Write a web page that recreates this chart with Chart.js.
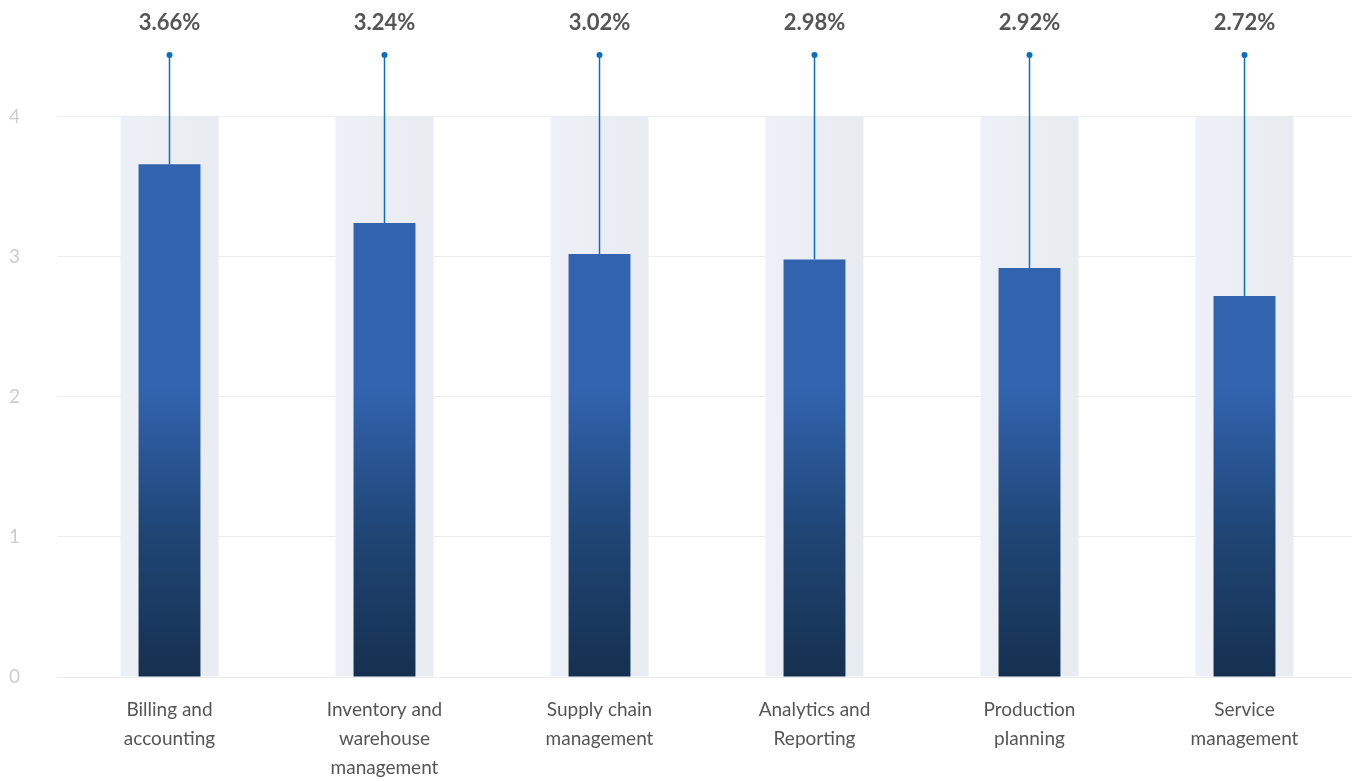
<!DOCTYPE html>
<html>
<head>
<meta charset="utf-8">
<script src="https://cdn.jsdelivr.net/npm/chart.js@4.4.1/dist/chart.umd.min.js"></script>
<style>
  html, body { margin: 0; padding: 0; background: #fff; }
  #wrap { width: 1355px; height: 781px; }
</style>
</head>
<body>
<div id="wrap"><canvas id="erpChart"></canvas></div>
<script>
// categories and values
const categories = [
    ['Billing and', 'accounting'],
    ['Inventory and', 'warehouse', 'management'],
    ['Supply chain', 'management'],
    ['Analytics and', 'Reporting'],
    ['Production', 'planning'],
    ['Service', 'management']
];
const shares = [3.66, 3.24, 3.02, 2.98, 2.92, 2.72];
const trackMax = [4, 4, 4, 4, 4, 4];   // light column behind each bar
const yTicks = [0, 1, 2, 3, 4];
const pinTop = 4.44;                    // where the marker dots sit

const FONT = "Lato, 'Source Sans Pro', 'Noto Sans', sans-serif";

// vertical gradient for the bars, dark at zero, blue from ~2.1 up
function barFill(context) {
    const chart = context.chart;
    const { ctx, chartArea, scales } = chart;
    if (!chartArea) return '#3163ae';
    const y0 = scales.y.getPixelForValue(0);
    const y1 = scales.y.getPixelForValue(2.05);
    const g = ctx.createLinearGradient(0, y0, 0, y1);
    g.addColorStop(0, '#15304f');
    g.addColorStop(0.5, '#1f4575');
    g.addColorStop(1, '#3163ae');
    return g;
}

// light column with a slight left-to-right shade
function trackFill(context) {
    const chart = context.chart;
    const { ctx, chartArea, scales } = chart;
    if (!chartArea) return '#ebeef3';
    const cx = scales.x.getPixelForValue(context.dataIndex);
    const g = ctx.createLinearGradient(cx - 49, 0, cx + 49, 0);
    g.addColorStop(0, '#edf0f6');
    g.addColorStop(1, '#e8ebef');
    return g;
}

// stems from each bar top up to a dot, with the percentage above
const pinPlugin = {
    id: 'pins',
    afterDatasetsDraw(chart) {
        const { ctx, scales } = chart;
        const meta = chart.getDatasetMeta(1);
        const yTop = scales.y.getPixelForValue(pinTop);
        ctx.save();
        meta.data.forEach((bar, i) => {
            ctx.strokeStyle = '#0a6fbf';
            ctx.lineWidth = 1.5;
            ctx.beginPath();
            ctx.moveTo(bar.x, bar.y);
            ctx.lineTo(bar.x, yTop);
            ctx.stroke();
            ctx.fillStyle = '#0a6fbf';
            ctx.beginPath();
            ctx.arc(bar.x, yTop, 3, 0, Math.PI * 2);
            ctx.fill();
            ctx.fillStyle = '#555555';
            ctx.font = 'bold 22px ' + FONT;
            ctx.textAlign = 'center';
            ctx.textBaseline = 'middle';
            ctx.fillText(shares[i].toFixed(2) + '%', bar.x, yTop - 32);
        });
        ctx.restore();
    }
};

const ctx = document.getElementById('erpChart').getContext('2d');
new Chart(ctx, {
    type: 'bar',
    data: {
        labels: categories,
        datasets: [
            {
                data: trackMax,
                backgroundColor: trackFill,
                barPercentage: 0.456,
                categoryPercentage: 1,
                grouped: false,
                order: 2
            },
            {
                data: shares,
                backgroundColor: barFill,
                barPercentage: 0.288,
                categoryPercentage: 1,
                grouped: false,
                order: 1
            }
        ]
    },
    options: {
        responsive: true,
        maintainAspectRatio: false,
        animation: false,
        layout: { padding: { top: 55, left: 9, right: 3, bottom: 0 } },
        plugins: {
            legend: { display: false },
            tooltip: { enabled: false }
        },
        scales: {
            x: {
                afterFit(scale) { scale.height = 104; },
                grid: { display: false },
                border: { display: false },
                ticks: {
                    color: '#555555',
                    padding: 10,
                    maxRotation: 0,
                    font: { family: FONT, size: 19, lineHeight: 29 / 19 }
                }
            },
            y: {
                min: 0,
                max: pinTop,
                afterBuildTicks(scale) {
                    scale.ticks = yTicks.map(v => ({ value: v }));
                },
                afterFit(scale) { scale.width = 53; },
                border: { display: false },
                grid: { color: '#ececec', tickLength: 5, tickColor: '#ececec' },
                ticks: {
                    color: '#cccccc',
                    crossAlign: 'far',
                    font: { family: FONT, size: 19 }
                }
            }
        }
    },
    plugins: [pinPlugin]
});
</script>
</body>
</html>
